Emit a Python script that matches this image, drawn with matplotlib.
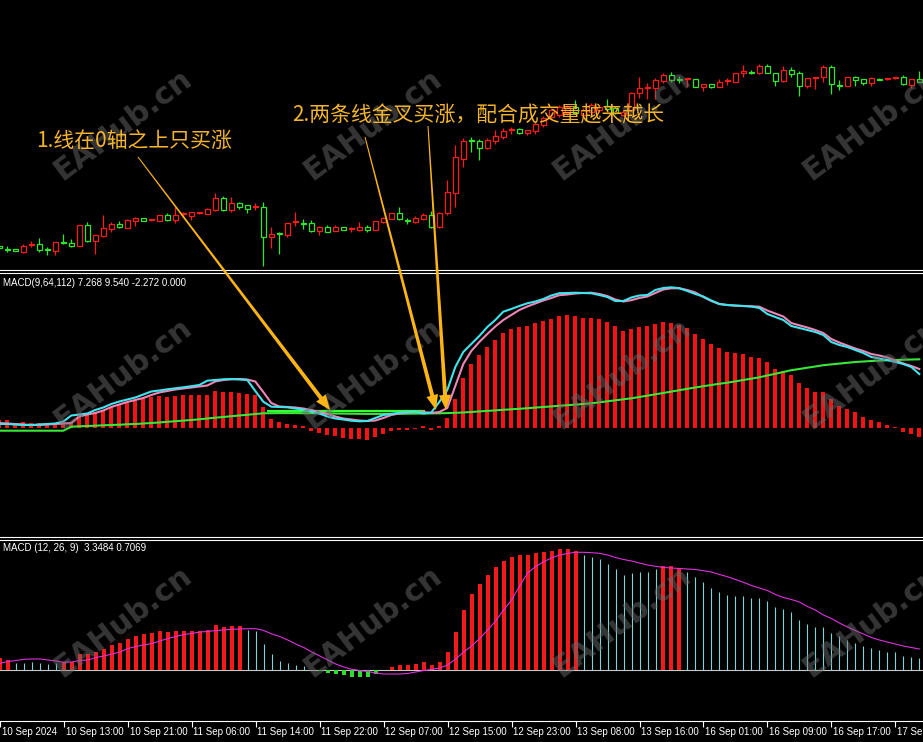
import numpy as np
import matplotlib
matplotlib.use('Agg')
import matplotlib.pyplot as plt
from matplotlib.patches import Polygon

# ---- data (H1 bars, 10 Sep - 17 Sep 2024) ----
opens = [2502, 2500.5, 2500.5, 2499, 2502.5, 2503, 2500.5, 2499.5, 2504, 2503.5,
         2502, 2512.5, 2504.5, 2507, 2510.5, 2513, 2511, 2514.5, 2516, 2515,
         2514.5, 2517.5, 2515, 2518, 2517, 2518.5, 2518, 2520, 2526, 2520,
         2523.5, 2522.5, 2521.5, 2521.5, 2506.5, 2508.5, 2507.5, 2514, 2513.5, 2513.5,
         2509.5, 2511.5, 2509.5, 2511.5, 2510.5, 2510, 2511.5, 2510, 2514, 2515.5,
         2518.5, 2515, 2514, 2515.5, 2517.5, 2511.5, 2518.5, 2528.5, 2545.5, 2555,
         2554.5, 2551, 2554.5, 2556.5, 2560, 2560.5, 2558.5, 2559.5, 2562.5, 2566.5,
         2567.5, 2568.5, 2571.5, 2567.5, 2569, 2570, 2572, 2571, 2567.5, 2570,
         2578.5, 2581, 2581, 2584.5, 2587.5, 2585.5, 2585.5, 2585.5, 2581.5, 2583,
         2581.5, 2584.5, 2584, 2588.5, 2589, 2588.5, 2592, 2588.5, 2584.5, 2590,
         2588.5, 2582, 2586, 2586.5, 2591.5, 2582.5, 2582, 2586.5, 2585.5, 2583.5,
         2585.5, 2585.5, 2586, 2586.5, 2582.5, 2585.5]
highs = [2502, 2502, 2500.5, 2503, 2504.5, 2506, 2501.5, 2504, 2508, 2505.5,
         2512.5, 2514, 2507.5, 2517.5, 2514, 2514.5, 2515.5, 2516.5, 2516, 2515.5,
         2517.5, 2518.5, 2521.5, 2519, 2519, 2519, 2521, 2528.5, 2527, 2526.5,
         2524, 2522.5, 2523.5, 2524, 2511.5, 2509, 2513.5, 2519, 2515.5, 2515,
         2512, 2512.5, 2512.5, 2511.5, 2511.5, 2514, 2512.5, 2514.5, 2516.5, 2518.5,
         2521.5, 2516, 2517, 2518.5, 2519.5, 2519, 2535, 2552.5, 2556, 2556.5,
         2555.5, 2556, 2560, 2561, 2561.5, 2561, 2560, 2564, 2567, 2571,
         2572.5, 2572.5, 2575, 2571, 2573.5, 2572.5, 2575.5, 2572, 2570, 2579,
         2586.5, 2583.5, 2586, 2588.5, 2589, 2587, 2586, 2585.5, 2583, 2583,
         2585.5, 2586, 2588.5, 2592.5, 2590, 2593, 2593, 2588.5, 2592, 2591.5,
         2589.5, 2586, 2586.5, 2592.5, 2592.5, 2585, 2586.5, 2587, 2585.5, 2586.5,
         2586, 2586, 2586.5, 2587.5, 2585.5, 2589.5]
lows = [2501, 2499, 2499.5, 2498.5, 2501.5, 2499, 2497.5, 2497.5, 2503, 2501.5,
        2502, 2504, 2498, 2506.5, 2509, 2511, 2511, 2512, 2514.5, 2514.5,
        2514.5, 2514.5, 2513.5, 2516.5, 2515, 2518, 2518, 2519.5, 2519.5, 2519,
        2520.5, 2518.5, 2520, 2492, 2501, 2498, 2506.5, 2512, 2510.5, 2509,
        2507.5, 2509, 2509.5, 2510, 2509, 2509.5, 2509, 2510, 2513.5, 2515.5,
        2515, 2513, 2513.5, 2515, 2511, 2511, 2517.5, 2521.5, 2541.5, 2549,
        2545, 2550.5, 2553, 2555.5, 2558, 2558, 2557.5, 2558, 2561.5, 2565.5,
        2566.5, 2567.5, 2568, 2567, 2568.5, 2569, 2570, 2568, 2567, 2569,
        2576, 2575.5, 2575.5, 2583.5, 2584, 2583.5, 2581.5, 2581.5, 2579.5, 2581,
        2581.5, 2582.5, 2584, 2586.5, 2588, 2588, 2588.5, 2582, 2584, 2586.5,
        2577, 2581, 2580.5, 2584, 2578, 2580, 2582, 2582, 2582.5, 2582,
        2585, 2585, 2585.5, 2582.5, 2581, 2584]
closes = [2501, 2500.2, 2499.5, 2502, 2502.8, 2500, 2500.2, 2504, 2503.7, 2502,
          2512.5, 2504.5, 2507.5, 2511, 2513, 2511.5, 2515, 2516, 2514.5, 2515.3,
          2517.5, 2515, 2517.5, 2518.3, 2519, 2518.8, 2520.5, 2526, 2520, 2523.5,
          2521.5, 2520.5, 2521.8, 2506.5, 2508, 2508.2, 2513.5, 2514.3, 2513.2, 2509.5,
          2511.5, 2509, 2511.5, 2510, 2510.8, 2511.5, 2510, 2514.5, 2516, 2518.5,
          2515.5, 2514.7, 2516, 2517.5, 2511.5, 2518.5, 2529, 2546.5, 2554.5, 2554.7,
          2551, 2555, 2557, 2559.5, 2560.3, 2558.5, 2560, 2563, 2566, 2570,
          2571.5, 2571.5, 2568.5, 2570, 2572.5, 2571.5, 2570.5, 2568.5, 2569, 2578.5,
          2581, 2581.3, 2585, 2587.5, 2585, 2585.2, 2585.8, 2581.5, 2583, 2581.5,
          2584, 2584.8, 2588.5, 2589.5, 2588.7, 2592, 2588.5, 2584.5, 2590, 2588,
          2582, 2586, 2586.3, 2591.5, 2583, 2582.2, 2586.5, 2585, 2583.5, 2586,
          2585.2, 2585.8, 2586.3, 2583, 2585.5, 2584]

# MACD(9,64,112): fast line (cyan), signal (pink), slow line (green), histogram (red)
macd_fast = [0.4, 0.4, 0.35, 0.3, 0.3, 0.35, 0.4, 0.45, 0.65, 1.25,
             1.35, 1.45, 1.8, 2.05, 2.4, 2.65, 2.85, 3.05, 3.35, 3.65,
             3.75, 3.87, 3.97, 4.07, 4.18, 4.3, 4.73, 4.8, 4.87, 4.9,
             4.85, 4.8, 3.7, 2.63, 2.13, 2.1, 2.07, 1.95, 1.83, 1.65,
             1.45, 1.15, 0.95, 0.85, 0.73, 0.67, 0.7, 1.0, 1.3, 1.4,
             1.53, 1.6, 1.63, 1.45, 1.55, 2.6, 3.8, 6.1, 7.6, 8.4,
             9.2, 10.1, 10.8, 11.63, 11.9, 12.2, 12.47, 12.65, 12.9, 13.25,
             13.48, 13.5, 13.53, 13.5, 13.47, 13.3, 13.1, 12.7, 12.7, 13.05,
             13.25, 13.3, 13.8, 14.0, 14.07, 13.98, 13.7, 13.4, 13.15, 12.75,
             12.4, 12.3, 12.25, 12.2, 12.15, 12.0, 11.4, 11.1, 10.8, 10.2,
             10.0, 9.8, 9.6, 9.3, 8.6, 8.3, 8.1, 7.8, 7.5, 7.1,
             6.95, 6.8, 6.6, 6.4, 6.1, 5.4]
macd_signal = [0.5, 0.45, 0.4, 0.35, 0.3, 0.3, 0.35, 0.4, 0.45, 0.5,
               1.15, 1.35, 1.5, 1.75, 2.1, 2.35, 2.6, 2.8, 3.0, 3.3,
               3.55, 3.7, 3.85, 3.95, 4.05, 4.15, 4.25, 4.65, 4.8, 4.87,
               4.9, 4.85, 4.65, 3.6, 2.5, 2.15, 2.1, 2.05, 1.95, 1.8,
               1.6, 1.4, 1.15, 0.95, 0.85, 0.75, 0.7, 0.75, 1.0, 1.3,
               1.45, 1.55, 1.6, 1.6, 1.5, 1.6, 2.0, 4.2, 6.4, 7.7,
               8.6, 9.4, 10.15, 10.8, 11.3, 11.8, 12.15, 12.45, 12.75, 13.0,
               13.28, 13.35, 13.45, 13.5, 13.53, 13.4, 13.2, 12.85, 12.65, 12.78,
               13.0, 13.15, 13.5, 13.85, 13.97, 13.97, 13.8, 13.55, 13.1, 12.7,
               12.4, 12.3, 12.23, 12.2, 12.17, 12.13, 11.75, 11.45, 11.15, 10.5,
               10.27, 10.05, 9.8, 9.5, 8.9, 8.55, 8.25, 7.95, 7.7, 7.4,
               7.25, 7.05, 6.75, 6.45, 6.2, 5.9]
macd_slow = [-0.27, -0.27, -0.27, -0.27, -0.27, -0.27, -0.27, -0.27, -0.27, 0.13,
             0.17, 0.2, 0.23, 0.27, 0.3, 0.33, 0.37, 0.4, 0.45, 0.5,
             0.55, 0.62, 0.68, 0.74, 0.8, 0.87, 0.95, 1.03, 1.1, 1.18,
             1.25, 1.32, 1.4, 1.47, 1.48, 1.49, 1.49, 1.49, 1.48, 1.48,
             1.47, 1.46, 1.45, 1.44, 1.43, 1.42, 1.41, 1.41, 1.41, 1.42,
             1.42, 1.43, 1.44, 1.45, 1.46, 1.47, 1.49, 1.52, 1.55, 1.6,
             1.66, 1.71, 1.76, 1.82, 1.87, 1.92, 1.98, 2.04, 2.1, 2.16,
             2.22, 2.28, 2.34, 2.4, 2.47, 2.57, 2.67, 2.77, 2.87, 2.97,
             3.1, 3.23, 3.37, 3.5, 3.64, 3.78, 3.92, 4.05, 4.18, 4.3,
             4.42, 4.53, 4.66, 4.8, 4.93, 5.07, 5.25, 5.42, 5.6, 5.78,
             5.9, 6.03, 6.15, 6.28, 6.36, 6.44, 6.52, 6.6, 6.65, 6.7,
             6.74, 6.77, 6.8, 6.83, 6.85, 6.87]
macd_hist = [0.8, 0.8, 0.53, 0.63, 0.53, 0.53, 0.4, 0.53, 0.63, 0.63,
             1.3, 1.4, 1.47, 1.8, 2.07, 2.3, 2.53, 2.73, 2.97, 3.07,
             3.2, 3.13, 3.2, 3.3, 3.3, 3.3, 3.3, 3.73, 3.63, 3.63,
             3.53, 3.4, 3.3, 2.13, 0.93, 0.57, 0.4, 0.3, 0.23, -0.3,
             -0.53, -0.7, -0.8, -0.97, -1.1, -1.1, -1.2, -0.93, -0.63, -0.3,
             -0.2, -0.2, -0.05, 0.2, -0.2, 0.2, 1.03, 2.87, 4.97, 6.4,
             7.3, 8.07, 8.8, 9.53, 9.87, 10.1, 10.2, 10.47, 10.7, 10.9,
             11.2, 11.3, 11.2, 10.97, 10.97, 10.87, 10.57, 10.2, 9.7, 9.87,
             10.07, 10.2, 10.4, 10.57, 10.53, 10.3, 9.97, 9.4, 8.87, 8.4,
             7.97, 7.6, 7.47, 7.37, 7.07, 6.97, 6.57, 5.9, 5.7, 5.3,
             4.47, 3.97, 3.57, 3.57, 2.87, 2.2, 1.87, 1.6, 1.13, 0.8,
             0.57, 0.3, 0.13, -0.37, -0.63, -0.93]
zero_mark = 1.73  # bright horizontal line drawn on the middle panel

# MACD(12,26,9): main as histogram + signal line
macd2_main = [1.23, 1.0, 0.67, 0.67, 0.8, 0.67, 0.6, 0.73, 0.8, 0.83,
              1.6, 1.6, 1.8, 2.1, 2.5, 2.67, 3.1, 3.4, 3.6, 3.73,
              3.9, 3.8, 3.9, 3.9, 3.9, 3.9, 4.0, 4.5, 4.33, 4.4,
              4.4, 4.0, 3.9, 2.6, 1.6, 0.9, 0.73, 0.5, 0.4, 0.05,
              -0.05, -0.33, -0.43, -0.53, -0.67, -0.67, -0.67, -0.4, 0.03, 0.33,
              0.5, 0.5, 0.6, 0.8, 0.5, 0.8, 1.8, 3.8, 6.0, 7.6,
              8.6, 9.5, 10.27, 10.9, 11.27, 11.5, 11.5, 11.67, 11.8, 11.9,
              12.1, 12.1, 11.9, 11.5, 11.33, 11.07, 10.6, 10.1, 9.5, 9.73,
              9.83, 9.83, 10.1, 10.4, 10.4, 10.17, 9.83, 9.27, 8.8, 8.17,
              7.8, 7.5, 7.4, 7.4, 7.2, 7.2, 6.9, 6.3, 6.1, 5.8,
              5.0, 4.6, 4.3, 4.3, 3.7, 3.4, 3.0, 2.7, 2.4, 2.2,
              2.0, 1.8, 1.8, 1.4, 1.3, 1.2]
macd2_signal = [0.67, 0.85, 0.95, 1.07, 1.1, 1.1, 1.0, 0.9, 0.77, 0.8,
                0.95, 1.0, 1.25, 1.4, 1.6, 1.8, 2.15, 2.35, 2.5, 2.65,
                2.9, 3.15, 3.35, 3.55, 3.65, 3.8, 3.85, 3.95, 4.0, 4.07,
                4.1, 4.13, 4.13, 3.95, 3.6, 3.35, 3.0, 2.6, 2.25, 1.8,
                1.4, 1.0, 0.6, 0.3, 0.07, -0.05, -0.15, -0.3, -0.4, -0.4,
                -0.4, -0.35, -0.2, -0.05, 0.05, 0.2, 0.5, 1.1, 1.8, 2.4,
                3.15, 4.0, 4.9, 6.0, 7.0, 8.4, 9.7, 10.35, 10.83, 11.2,
                11.5, 11.65, 11.77, 11.77, 11.73, 11.67, 11.5, 11.25, 11.05, 10.9,
                10.7, 10.5, 10.37, 10.25, 10.2, 10.15, 10.1, 10.05, 9.93, 9.8,
                9.55, 9.33, 9.05, 8.77, 8.45, 8.2, 7.95, 7.55, 7.25, 7.05,
                6.8, 6.35, 6.0, 5.5, 5.15, 4.7, 4.3, 3.95, 3.6, 3.25,
                3.0, 2.8, 2.6, 2.4, 2.25, 2.1]

tick_labels = ['10 Sep 2024', '10 Sep 13:00', '10 Sep 21:00', '11 Sep 06:00',
               '11 Sep 14:00', '11 Sep 22:00', '12 Sep 07:00', '12 Sep 15:00',
               '12 Sep 23:00', '13 Sep 08:00', '13 Sep 16:00', '16 Sep 01:00',
               '16 Sep 09:00', '16 Sep 17:00', '17 Sep 01:00']

label_top = 'MACD(9,64,112) 7.268 9.540 -2.272 0.000'
label_bottom = 'MACD (12, 26, 9)  3.3484 0.7069'
note1 = '1.线在0轴之上只买涨'
note2 = '2.两条线金叉买涨，配合成交量越来越长'

# ---- figure ----
plt.rcParams['font.family'] = ['Liberation Sans', 'DejaVu Sans']
W, H = 923, 742
fig = plt.figure(figsize=(W / 100, H / 100), dpi=100, facecolor='black')

RED = '#FF1A1A'
GREEN = '#2EE82E'

def panel(top, bottom):
    ax = fig.add_axes([0, 1 - bottom / H, 1, (bottom - top) / H])
    ax.set_facecolor('black')
    for s in ax.spines.values():
        s.set_visible(False)
    ax.set_xticks([])
    ax.set_yticks([])
    ax.set_xlim(0.7 / 8, (W + 0.7) / 8)
    return ax

def white_spine(ax, side):
    ax.spines[side].set_visible(True)
    ax.spines[side].set_color('white')
    ax.spines[side].set_linewidth(0.8)

ax1 = panel(0, 270)
ax2 = panel(272.5, 537.3)
ax3 = panel(539.5, 721)
white_spine(ax1, 'bottom')
white_spine(ax2, 'top')
white_spine(ax2, 'bottom')
white_spine(ax3, 'top')
white_spine(ax3, 'bottom')

x = np.arange(len(opens))
o, h, l, c = (np.array(v) for v in (opens, highs, lows, closes))

# candles: red = up, green = down, hollow bodies
cols = np.where(c >= o, RED, GREEN)
lo_b = np.minimum(o, c)
hi_b = np.maximum(o, c)
ax1.vlines(x, l, h, colors=cols, lw=0.9, zorder=2)
ax1.bar(x, hi_b - lo_b, bottom=lo_b, width=0.58, facecolor='black',
        edgecolor=cols, linewidth=0.9, zorder=3)
ax1.set_ylim(2490, 2625)

# middle MACD(9,64,112)
ax2.bar(x, macd_hist, width=0.5, color='#F51212', zorder=2)
ax2.plot(x, macd_slow, color='#38E838', lw=1.5, zorder=3)
ax2.hlines(zero_mark, 33.5, 53.2, color='#33FF33', lw=1.6, zorder=3)
ax2.plot(x, macd_signal, color='#EE86B8', lw=1.5, zorder=4)
ax2.plot(x, macd_fast, color='#3FE4EC', lw=1.5, zorder=5)
ax2.set_ylim(-10.93, 15.55)

# bottom MACD(12,26,9)
m2 = np.array(macd2_main)
s2 = np.array(macd2_signal)
neg = m2 < 0
above = (m2 >= s2) & ~neg
below = (m2 < s2) & ~neg
ax3.axhline(0, color='#C8C8C8', lw=0.8, zorder=1)
ax3.bar(x[above], m2[above], width=0.5, color='#F41A1A', zorder=2)
ax3.bar(x[neg], m2[neg], width=0.5, color='#2EE02E', zorder=2)
ax3.vlines(x[below], 0, m2[below], color='#7AD6D6', lw=0.8, zorder=2)
ax3.plot(x, s2, color='#E030E0', lw=0.8, zorder=3)
ax3.set_ylim(-5.1, 13.05)

# time axis
ticks = x[::8]
ax3.set_xticks(ticks)
ax3.tick_params(axis='x', length=4, width=0.8, color='white', labelbottom=False)
for t, lab in zip(ticks, tick_labels):
    ax3.text(t + 0.2, -0.035, lab, transform=ax3.get_xaxis_transform(),
             ha='left', va='top', color='white', fontsize=7)

fig.text(3 / W, 1 - 283 / H, label_top, color='white', fontsize=7, va='center')
fig.text(3 / W, 1 - 548 / H, label_bottom, color='white', fontsize=7, va='center')

# overlay in pixel coordinates for watermark + notes
ov = fig.add_axes([0, 0, 1, 1], zorder=10)
ov.set_xlim(0, W)
ov.set_ylim(H, 0)
ov.axis('off')
ov.patch.set_alpha(0)

for cy in (125, 374, 622):
    for cx in (123, 373, 622, 872):
        ov.text(cx, cy, 'EAHub.cn', rotation=37, ha='center', va='center',
                rotation_mode='anchor', fontsize=22, fontweight='bold',
                family='DejaVu Sans', color='#6a6a6a', alpha=0.5, zorder=1)

def taper_arrow(p0, p1, w0=1.0, w1=4.0, hl=15, hw=12, color='#FDB515'):
    p0 = np.array(p0, float)
    p1 = np.array(p1, float)
    d = (p1 - p0) / np.hypot(*(p1 - p0))
    n = np.array([-d[1], d[0]])
    b = p1 - d * hl
    pts = [p0 + n * w0 / 2, b + n * w1 / 2, b + n * hw / 2, p1,
           b - n * hw / 2, b - n * w1 / 2, p0 - n * w0 / 2]
    ov.add_patch(Polygon(pts, closed=True, facecolor=color, edgecolor='none', zorder=3))

taper_arrow((138, 157), (330, 410))
taper_arrow((365, 137), (436, 410))
taper_arrow((428, 126), (446, 410))

cjk = ['Noto Sans CJK SC', 'DejaVu Sans']
ov.text(36, 141, note1, color='#F4B42C', fontsize=15, family=cjk,
        ha='left', va='center', zorder=4)
ov.text(292, 116, note2, color='#F4B42C', fontsize=15, family=cjk,
        ha='left', va='center', zorder=4)

fig.savefig('out.png', dpi=100, facecolor='black')
